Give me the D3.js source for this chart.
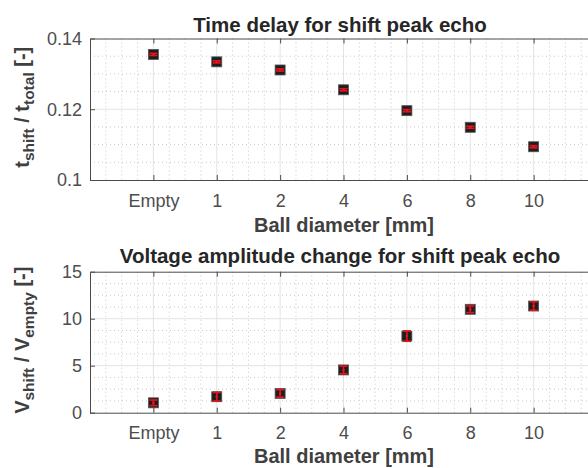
<!DOCTYPE html>
<html>
<head>
<meta charset="utf-8">
<script src="https://cdn.jsdelivr.net/npm/d3@7"></script>
<style>
  html, body { margin: 0; padding: 0; background: #fff; }
  svg { display: block; font-family: "Liberation Sans", Arial, Helvetica, sans-serif; }
</style>
</head>
<body>
<div id="chart"></div>
<script>
// ball diameters on the x axis (categorical)
const categories = ['Empty', '1', '2', '4', '6', '8', '10'];

// time delay ratio t_shift / t_total
const tRatio = [0.1355, 0.1334, 0.1311, 0.1255, 0.1196, 0.1149, 0.1094];
const tErr   = [0.0003, 0.0003, 0.0003, 0.0003, 0.0003, 0.0003, 0.0003];

// voltage amplitude ratio V_shift / V_empty
const vRatio = [1.05, 1.7, 2.05, 4.55, 8.15, 11.0, 11.35];
const vErr   = [0.3, 0.45, 0.4, 0.4, 0.55, 0.35, 0.45];

const yTicksTop = [0.1, 0.12, 0.14];
const yTicksBot = [0, 5, 10, 15];

const C = {
  axis: '#4a4a4a', text: '#4d4d4d', title: '#262626',
  grid: '#e3e3e3', minor: '#c8c8c8', marker: '#1e1e1e', err: '#e8121c',
};

const W = 588, H = 468;
const svg = d3.select('#chart').append('svg')
  .attr('width', W).attr('height', H)
  .style('background', '#fff');

const x = d3.scaleLinear().domain([0, 8]).range([90, 597]);

function panel({ top, bottom, yDomain, yTicks, yMinorStep, vals, errs, title, titleY, labelY, ylabel, fmt }) {
  const y = d3.scaleLinear().domain(yDomain).range([bottom, top]);
  const g = svg.append('g');

  // minor grid (dotted)
  const xMinor = d3.range(0.25, 8, 0.25).filter(v => Math.abs(v - Math.round(v)) > 1e-6);
  g.selectAll('.mx').data(xMinor).join('line')
    .attr('x1', d => x(d)).attr('x2', d => x(d)).attr('y1', top).attr('y2', bottom)
    .attr('stroke', C.minor).attr('stroke-width', 1).attr('stroke-dasharray', '1,3');
  const yMinor = d3.range(yDomain[0], yDomain[1] + 1e-9, yMinorStep)
    .filter(v => !yTicks.some(t => Math.abs(t - v) < 1e-9));
  g.selectAll('.my').data(yMinor).join('line')
    .attr('x1', 90).attr('x2', W).attr('y1', d => y(d)).attr('y2', d => y(d))
    .attr('stroke', C.minor).attr('stroke-width', 1).attr('stroke-dasharray', '1,3');

  // major grid
  g.selectAll('.gx').data(d3.range(1, 8)).join('line')
    .attr('x1', d => x(d)).attr('x2', d => x(d)).attr('y1', top).attr('y2', bottom)
    .attr('stroke', C.grid).attr('stroke-width', 1);
  g.selectAll('.gy').data(yTicks.slice(1, -1)).join('line')
    .attr('x1', 90).attr('x2', W).attr('y1', d => y(d)).attr('y2', d => y(d))
    .attr('stroke', C.grid).attr('stroke-width', 1);

  // axes
  const xAxis = g.append('g').attr('transform', `translate(0,${bottom})`)
    .call(d3.axisBottom(x).tickValues(d3.range(1, 8))
      .tickFormat(d => categories[d - 1]).tickSizeInner(-5).tickSizeOuter(0).tickPadding(14));
  const xTop = g.append('g').attr('transform', `translate(0,${top})`)
    .call(d3.axisTop(x).tickValues(d3.range(1, 8)).tickFormat('')
      .tickSizeInner(-5).tickSizeOuter(0));
  const yAxis = g.append('g').attr('transform', 'translate(90,0)')
    .call(d3.axisLeft(y).tickValues(yTicks).tickFormat(fmt)
      .tickSizeInner(-5).tickSizeOuter(0).tickPadding(8));
  [xAxis, xTop, yAxis].forEach(a => {
    a.select('.domain').attr('stroke', C.axis).attr('stroke-width', 1);
    a.selectAll('.tick line').attr('stroke', C.axis);
    a.selectAll('.tick text').attr('fill', C.text).style('font-size', '18px')
      .style('font-family', '"Liberation Sans", Arial, sans-serif');
  });

  // markers
  const pts = vals.map((v, i) => ({ i: i + 1, v, e: errs[i] }));
  g.selectAll('.mk').data(pts).join('rect')
    .attr('x', d => x(d.i) - 5).attr('y', d => y(d.v) - 5)
    .attr('width', 10).attr('height', 10)
    .attr('fill', C.marker).attr('stroke', '#555').attr('stroke-width', 0.8);

  // error bars
  const eb = g.selectAll('.eb').data(pts).join('g').attr('stroke', C.err).attr('stroke-width', 1.6);
  eb.append('line')
    .attr('x1', d => x(d.i)).attr('x2', d => x(d.i))
    .attr('y1', d => y(d.v - d.e)).attr('y2', d => y(d.v + d.e));
  eb.append('line')
    .attr('x1', d => x(d.i) - 4).attr('x2', d => x(d.i) + 4)
    .attr('y1', d => y(d.v - d.e)).attr('y2', d => y(d.v - d.e));
  eb.append('line')
    .attr('x1', d => x(d.i) - 4).attr('x2', d => x(d.i) + 4)
    .attr('y1', d => y(d.v + d.e)).attr('y2', d => y(d.v + d.e));
  eb.append('circle').attr('cx', d => x(d.i)).attr('cy', d => y(d.v)).attr('r', 1.3)
    .attr('fill', C.err).attr('stroke', 'none');

  // title
  svg.append('text').attr('x', 340).attr('y', titleY).attr('text-anchor', 'middle')
    .attr('fill', C.title).style('font-size', '20.5px').style('font-weight', 'bold')
    .text(title);

  // x label
  svg.append('text').attr('x', 344).attr('y', labelY).attr('text-anchor', 'middle')
    .attr('fill', '#404040').style('font-size', '20px').style('font-weight', 'bold')
    .text('Ball diameter [mm]');

  // y label with subscripts
  const yl = svg.append('text')
    .attr('transform', `translate(29,${(top + bottom) / 2 - 2}) rotate(-90)`)
    .attr('text-anchor', 'middle').attr('fill', '#404040')
    .style('font-size', '20px').style('font-weight', 'bold');
  ylabel.forEach(([t, sub]) => {
    const s = yl.append('tspan').text(t);
    if (sub) s.attr('baseline-shift', '-30%').style('font-size', '15.5px');
  });
}

panel({
  top: 38.5, bottom: 180, yDomain: [0.1, 0.14], yTicks: yTicksTop, yMinorStep: 0.005,
  vals: tRatio, errs: tErr, title: 'Time delay for shift peak echo', titleY: 32, labelY: 232,
  ylabel: [['t'], ['shift', true], [' / t'], ['total', true], [' [-]']],
  fmt: d => (d === 0.1 ? '0.1' : d3.format('.2f')(d)),
});

panel({
  top: 271.7, bottom: 412.7, yDomain: [0, 15], yTicks: yTicksBot, yMinorStep: 1.25,
  vals: vRatio, errs: vErr, title: 'Voltage amplitude change for shift peak echo', titleY: 263, labelY: 463,
  ylabel: [['V'], ['shift', true], [' / V'], ['empty', true], [' [-]']],
  fmt: d3.format('d'),
});
</script>
</body>
</html>
